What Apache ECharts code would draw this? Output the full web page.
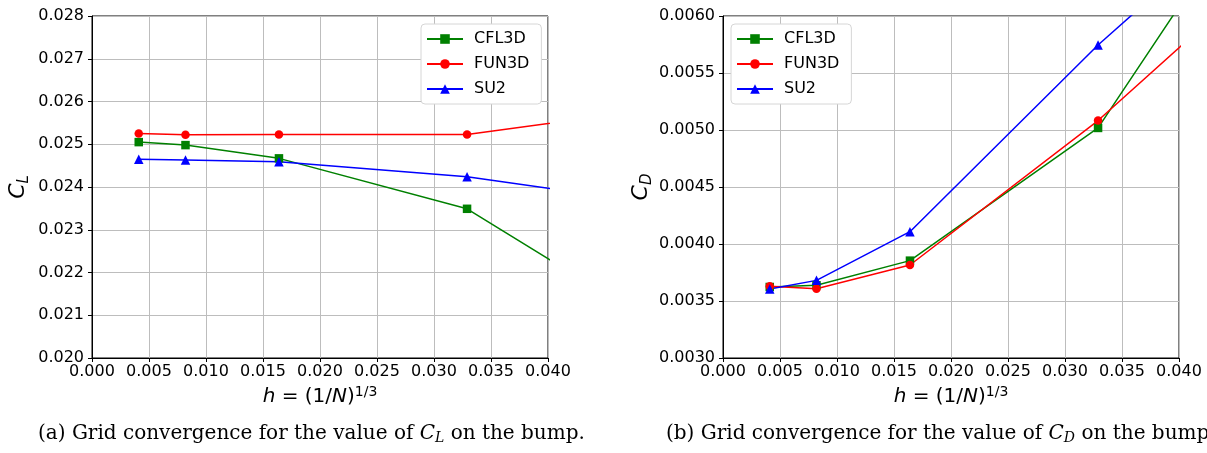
<!DOCTYPE html>
<html>
<head>
<meta charset="utf-8">
<script src="https://cdn.jsdelivr.net/npm/echarts@6/dist/echarts.min.js"></script>
<style>
  html, body { margin: 0; padding: 0; background: #fff; }
  #chart { width: 1207px; height: 453px; }
</style>
</head>
<body>
<div id="chart"></div>
<script>
// grid spacing h = (1/N)^(1/3); last point lies beyond the plotted range (lines are clipped)
const hValues = [0.0041, 0.0082, 0.0164, 0.0329, 0.0658];
const seriesNames = ['CFL3D', 'FUN3D', 'SU2'];

// Lift coefficient C_L
const clCFL3D = [0.02505, 0.02498, 0.02467, 0.02349, 0.01810];
const clFUN3D = [0.02525, 0.02522, 0.02523, 0.02523, 0.02642];
const clSU2   = [0.02465, 0.02463, 0.02459, 0.02424, 0.02299];

// Drag coefficient C_D
const cdCFL3D = [0.003623, 0.003638, 0.003854, 0.005018, 0.00995];
const cdFUN3D = [0.003629, 0.003608, 0.003816, 0.005083, 0.00804];
const cdSU2   = [0.003605, 0.003681, 0.004108, 0.005746, 0.00866];

const xTicks = { min: 0, max: 0.040, interval: 0.005 };
const clTicks = { min: 0.020, max: 0.028, interval: 0.001 };
const cdTicks = { min: 0.0030, max: 0.0060, interval: 0.0005 };

const colors = { CFL3D: '#008000', FUN3D: '#ff0000', SU2: '#0000ff' };
const symbols = { CFL3D: 'rect', FUN3D: 'circle', SU2: 'triangle' };
const symbolSizes = { CFL3D: 8.5, FUN3D: 8.5, SU2: 9.5 };

const tickFont = { fontFamily: 'DejaVu Sans', fontSize: 16, color: '#000' };

function pairs(ys) { return hValues.map((x, i) => [x, ys[i]]); }

function mkSeries(name, ys, idx) {
  return {
    name: name, type: 'line', xAxisIndex: idx, yAxisIndex: idx,
    data: pairs(ys), clip: true,
    symbol: symbols[name], symbolSize: symbolSizes[name], showSymbol: true,
    lineStyle: { color: colors[name], width: 1.5 },
    itemStyle: { color: colors[name] },
    animation: false, z: 3
  };
}

function mkX(idx) {
  return {
    type: 'value', gridIndex: idx, min: xTicks.min, max: xTicks.max, interval: xTicks.interval,
    axisLine: { show: true, onZero: false, lineStyle: { color: '#000', width: 1 } },
    axisTick: { show: true, inside: false, length: 4, lineStyle: { color: '#000' } },
    axisLabel: Object.assign({ margin: 6, formatter: v => v.toFixed(3) }, tickFont),
    splitLine: { show: true, lineStyle: { color: '#bdbdbd', width: 1 } },
    name: '{i|h} = (1/{i|N}){s|1/3}',
    nameLocation: 'middle', nameGap: 24,
    nameTextStyle: {
      fontFamily: 'DejaVu Sans', fontSize: 20, color: '#000',
      rich: {
        i: { fontFamily: 'DejaVu Sans', fontSize: 20, fontStyle: 'italic', color: '#000' },
        s: { fontFamily: 'DejaVu Sans', fontSize: 14, color: '#000', verticalAlign: 'top', padding: [0, 0, 10, 0] }
      }
    }
  };
}

function mkY(idx, t, dec, sub, gap) {
  return {
    type: 'value', gridIndex: idx, min: t.min, max: t.max, interval: t.interval,
    axisLine: { show: true, onZero: false, lineStyle: { color: '#000', width: 1 } },
    axisTick: { show: true, inside: false, length: 4, lineStyle: { color: '#000' } },
    axisLabel: Object.assign({ margin: 8, formatter: v => v.toFixed(dec) }, tickFont),
    splitLine: { show: true, lineStyle: { color: '#bdbdbd', width: 1 } },
    name: '{c|C}{s|' + sub + '}',
    nameLocation: 'middle', nameRotate: 90, nameGap: gap,
    nameTextStyle: {
      color: '#000',
      rich: {
        c: { fontFamily: 'DejaVu Sans', fontSize: 22, fontStyle: 'italic', color: '#000' },
        s: { fontFamily: 'DejaVu Sans', fontSize: 15, fontStyle: 'italic', color: '#000', padding: [12, 0, 0, 0] }
      }
    }
  };
}

function mkLegend(left) {
  return {
    data: seriesNames, left: left, top: 24, orient: 'vertical',
    itemWidth: 36, itemHeight: 12, itemGap: 9,
    padding: [7, 12, 7, 5],
    backgroundColor: '#fff', borderColor: '#d6d6d6', borderWidth: 1, borderRadius: 4,
    textStyle: { fontFamily: 'DejaVu Sans', fontSize: 16, color: '#000', padding: [0, 0, 0, 6] },
    selectedMode: false
  };
}

const captionRich = {
  i: { fontFamily: 'DejaVu Serif', fontSize: 20, fontStyle: 'italic', fill: '#000' },
  s: { fontFamily: 'DejaVu Serif', fontSize: 14, fontStyle: 'italic', fill: '#000', padding: [8, 0, 0, 0] }
};

const chart = echarts.init(document.getElementById('chart'), null, { renderer: 'canvas' });
chart.setOption({
  backgroundColor: '#fff',
  animation: false,
  grid: [
    { left: 92, right: 1207 - 548, top: 16, bottom: 453 - 358, show: true, borderColor: '#000', borderWidth: 1, backgroundColor: 'transparent' },
    { left: 723, right: 1207 - 1179, top: 16, bottom: 453 - 358, show: true, borderColor: '#000', borderWidth: 1, backgroundColor: 'transparent' }
  ],
  xAxis: [mkX(0), mkX(1)],
  yAxis: [mkY(0, clTicks, 3, 'L', 60), mkY(1, cdTicks, 4, 'D', 68)],
  legend: [mkLegend(421), mkLegend(731)],
  series: [
    mkSeries('CFL3D', clCFL3D, 0), mkSeries('FUN3D', clFUN3D, 0), mkSeries('SU2', clSU2, 0),
    mkSeries('CFL3D', cdCFL3D, 1), mkSeries('FUN3D', cdFUN3D, 1), mkSeries('SU2', cdSU2, 1)
  ],
  graphic: [
    {
      type: 'text', left: 38, top: 424,
      style: {
        text: '(a) Grid convergence for the value of {i|C}{s|L} on the bump.',
        fontFamily: 'DejaVu Serif', fontSize: 20, fill: '#000', rich: captionRich
      }
    },
    {
      type: 'text', left: 666, top: 424,
      style: {
        text: '(b) Grid convergence for the value of {i|C}{s|D} on the bump.',
        fontFamily: 'DejaVu Serif', fontSize: 20, fill: '#000', rich: captionRich
      }
    }
  ]
});
</script>
</body>
</html>
